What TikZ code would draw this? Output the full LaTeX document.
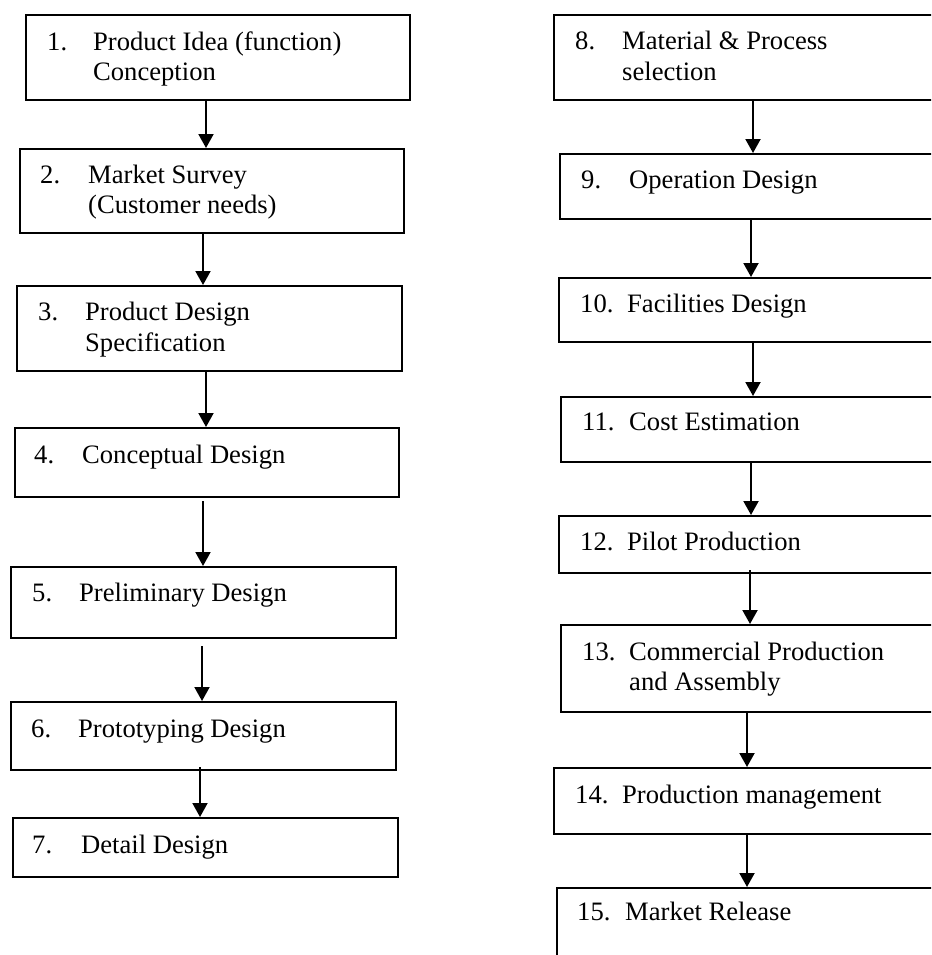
\documentclass[tikz,border=0pt]{standalone}
\usepackage{fontspec}
\setmainfont{Liberation Serif}
\usetikzlibrary{arrows.meta}
\tikzset{
  box/.style={draw, line width=2pt, anchor=north west, inner sep=0pt, rectangle},
  arr/.style={line width=2pt, -{Triangle[length=14pt,width=15pt]}},
  txt/.style={anchor=base west, inner sep=0pt, font=\fontsize{26.6}{30}\selectfont}
}
\begin{document}
\begin{tikzpicture}[x=1pt,y=-1pt]
\path[use as bounding box, clip] (0,0) rectangle (931,955);
% left column boxes
\node[box, minimum width=384pt, minimum height=85pt] (b1) at (25,14) {};
\node[box, minimum width=384pt, minimum height=84pt] (b2) at (19,148) {};
\node[box, minimum width=385pt, minimum height=85pt] (b3) at (16,285) {};
\node[box, minimum width=384pt, minimum height=69pt] (b4) at (14,427) {};
\node[box, minimum width=385pt, minimum height=71pt] (b5) at (10,566) {};
\node[box, minimum width=385pt, minimum height=68pt] (b6) at (10,701) {};
\node[box, minimum width=385pt, minimum height=59pt] (b7) at (12,817) {};
% right column boxes
\node[box, minimum width=400pt, minimum height=85pt] (b8) at (553,14) {};
\node[box, minimum width=400pt, minimum height=65pt] (b9) at (559,153) {};
\node[box, minimum width=400pt, minimum height=64pt] (b10) at (558,277) {};
\node[box, minimum width=400pt, minimum height=65pt] (b11) at (560,396) {};
\node[box, minimum width=400pt, minimum height=57pt] (b12) at (558,515) {};
\node[box, minimum width=400pt, minimum height=87pt] (b13) at (560,624) {};
\node[box, minimum width=400pt, minimum height=66pt] (b14) at (553,767) {};
\node[box, minimum width=400pt, minimum height=100pt] (b15) at (556,887) {};
% texts left
\node[txt] at (47,51) {1.};
\node[txt] at (93,51) {Product Idea (function)};
\node[txt] at (93,81) {Conception};
\node[txt] at (40,183) {2.};
\node[txt] at (88,183) {Market Survey};
\node[txt] at (88,213) {(Customer needs)};
\node[txt] at (38,320) {3.};
\node[txt] at (85,320) {Product Design};
\node[txt] at (85,351) {Specification};
\node[txt] at (34,463) {4.};
\node[txt] at (82,463) {Conceptual Design};
\node[txt] at (32,601) {5.};
\node[txt] at (79,601) {Preliminary Design};
\node[txt] at (31,737) {6.};
\node[txt] at (78,737) {Prototyping Design};
\node[txt] at (32,853) {7.};
\node[txt] at (81,853) {Detail Design};
% texts right
\node[txt] at (575,50) {8.};
\node[txt] at (622,50) {Material \& Process};
\node[txt] at (622,81) {selection};
\node[txt] at (581,188) {9.};
\node[txt] at (629,188) {Operation Design};
\node[txt] at (580,312) {10.};
\node[txt] at (627,312) {Facilities Design};
\node[txt] at (582,430) {11.};
\node[txt] at (629,430) {Cost Estimation};
\node[txt] at (580,550) {12.};
\node[txt] at (627,550) {Pilot Production};
\node[txt] at (582,660) {13.};
\node[txt] at (629,660) {Commercial Production};
\node[txt] at (629,690) {and Assembly};
\node[txt] at (575,803) {14.};
\node[txt] at (622,803) {Production management};
\node[txt] at (577,920) {15.};
\node[txt] at (625,920) {Market Release};
% arrow x positions
\coordinate (x1) at (206,0);
\coordinate (x2) at (203,0);
\coordinate (x3) at (206,0);
\coordinate (x4) at (203,0);
\coordinate (x5) at (202,0);
\coordinate (x6) at (200,0);
\coordinate (x8) at (753,0);
\coordinate (x9) at (751,0);
\coordinate (x10) at (753,0);
\coordinate (x11) at (751,0);
\coordinate (x12) at (750,0);
\coordinate (x13) at (747,0);
\coordinate (x14) at (747,0);
% arrows
\draw[arr] (x1 |- b1.south) -- (x1 |- b2.north);
\draw[arr] (x2 |- b2.south) -- (x2 |- b3.north);
\draw[arr] (x3 |- b3.south) -- (x3 |- b4.north);
\draw[arr] ([yshift=-3pt]x4 |- b4.south) -- (x4 |- b5.north);
\draw[arr] ([yshift=-7pt]x5 |- b5.south) -- (x5 |- b6.north);
\draw[arr] ([yshift=4pt]x6 |- b6.south) -- (x6 |- b7.north);
\draw[arr] (x8 |- b8.south) -- (x8 |- b9.north);
\draw[arr] (x9 |- b9.south) -- (x9 |- b10.north);
\draw[arr] (x10 |- b10.south) -- (x10 |- b11.north);
\draw[arr] (x11 |- b11.south) -- (x11 |- b12.north);
\draw[arr] ([yshift=4pt]x12 |- b12.south) -- (x12 |- b13.north);
\draw[arr] (x13 |- b13.south) -- (x13 |- b14.north);
\draw[arr] (x14 |- b14.south) -- (x14 |- b15.north);
\end{tikzpicture}
\end{document}
